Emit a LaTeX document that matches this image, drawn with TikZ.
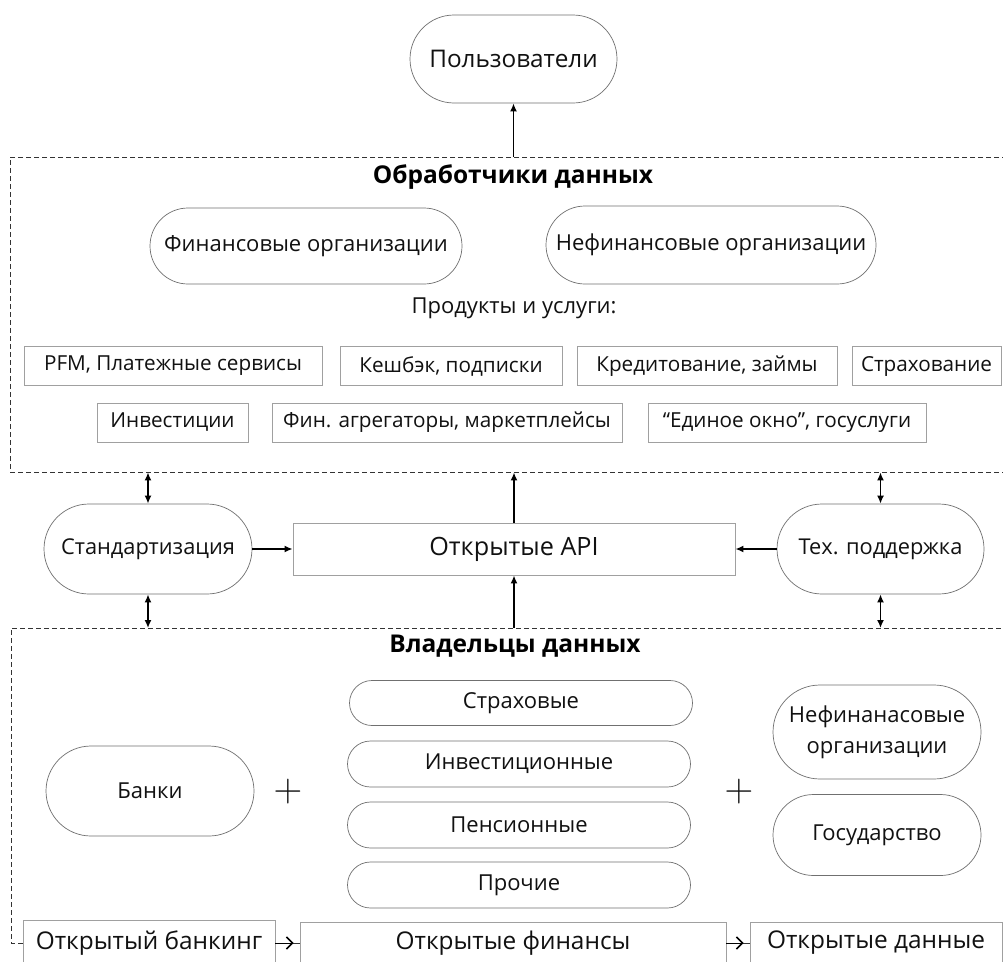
\documentclass[tikz,border=0pt]{standalone}
\usepackage{graphicx}
\usepackage{fontspec}
\setmainfont{Open Sans}
\usetikzlibrary{shapes.misc,arrows.meta}
\definecolor{txt}{HTML}{111111}
\definecolor{pillc}{HTML}{707070}
\definecolor{boxc}{HTML}{A0A0A0}
\definecolor{dashc}{HTML}{333333}
\newcommand{\fs}[1]{\fontsize{#1}{#1}\selectfont}
\tikzset{
  pill/.style={rounded rectangle, draw=pillc, line width=0.7pt, text=txt, inner sep=0pt, align=center},
  plainbox/.style={rectangle, draw=boxc, line width=0.8pt, text=txt, inner sep=0pt, align=center},
  grp/.style={draw=dashc, line width=0.8pt, dash pattern=on 5pt off 3pt},
  title/.style={text=black, font=\bfseries\fs{24.5}},
  lbl/.style={text=txt},
  arr/.style={line width=1.6pt, -{Latex[length=8pt,width=7pt]}},
  darr/.style={line width=1.6pt, {Latex[length=8pt,width=7pt]}-{Latex[length=8pt,width=7pt]}},
  thinline/.style={line width=0.9pt, draw=dashc},
  barr/.style={line width=0.9pt, draw=black, shorten >=6pt, -{Straight Barb[length=6pt,width=12pt,line width=1.6pt]}},
}
\begin{document}
\begin{tikzpicture}[x=1pt,y=-1pt]
\useasboundingbox (0,0) rectangle (1003,961);
\clip (0,0) rectangle (1003,961);
\fill[white] (0,0) rectangle (1003,961);

% top
\node[pill, minimum width=207pt, minimum height=88pt, font=\fs{24.3}] (users) at (513.5,59) {Пользователи};

% processors group
\node[grp, rectangle, minimum width=1005pt, minimum height=315pt, inner sep=0pt] (proc) at (512.5,314.5) {};
\node[title] (t1) at (513,177) {Обработчики данных};
\node[pill, minimum width=312pt, minimum height=76pt, font=\fs{22}] (fin) at (306,246) {Финансовые организации};
\node[pill, minimum width=330pt, minimum height=78pt, font=\fs{22}] (nefin) at (711,245) {Нефинансовые организации};
\node[lbl, font=\fs{22}] (prod) at (514,308) {Продукты и услуги:};

\node[plainbox, minimum width=298pt, minimum height=39pt, font=\fs{20.7}] (pfm) at (173,366) {PFM, Платежные сервисы};
\node[plainbox, minimum width=222pt, minimum height=39pt, font=\fs{20.7}] (cash) at (451,366) {Кешбэк, подписки};
\node[plainbox, minimum width=260pt, minimum height=39pt, font=\fs{20.7}] (cred) at (707,366) {Кредитование, займы};
\node[plainbox, minimum width=149pt, minimum height=39pt, font=\fs{20.7}] (insur) at (926.5,366) {Страхование};
\node[plainbox, minimum width=151pt, minimum height=39pt, font=\fs{20.7}] (inv) at (172.5,422.5) {Инвестиции};
\node[plainbox, minimum width=350pt, minimum height=39pt, font=\fs{20.7}] (agg) at (447,422.5) {Фин. агрегаторы, маркетплейсы};
\node[plainbox, minimum width=278pt, minimum height=39pt, font=\fs{20.7}] (okno) at (787,422.5) {“Единое окно”, госуслуги};

% middle
\node[pill, minimum width=208pt, minimum height=90pt, font=\fs{21.8}] (std) at (148,549) {Стандартизация};
\node[plainbox, minimum width=442pt, minimum height=52pt, font=\fs{25.2}] (api) at (514,549) {Открытые API};
\node[pill, minimum width=207pt, minimum height=90pt, font=\fs{21.8}] (tech) at (880.5,549) {Тех. поддержка};

% owners group
\coordinate (ownTL) at (11,628);
\coordinate (ownTR) at (1015,628);
\node[title] (t2) at (515,646) {Владельцы данных};
\node[pill, minimum width=208pt, minimum height=90pt, font=\fs{22}] (banks) at (150,791) {Банки};
\node[lbl, font=\fs{24}] (plus1) at (288,792) {\scalebox{1.6}{$+$}};
\node[pill, minimum width=343pt, minimum height=45pt, font=\fs{22}] (s1) at (521,703) {Страховые};
\node[pill, minimum width=343pt, minimum height=46pt, font=\fs{22}] (s2) at (519,764) {Инвестиционные};
\node[pill, minimum width=343pt, minimum height=46pt, font=\fs{22}] (s3) at (519,825) {Пенсионные};
\node[pill, minimum width=343pt, minimum height=46pt, font=\fs{22}] (s4) at (519,885) {Прочие};
\node[lbl, font=\fs{24}] (plus2) at (739,792) {\scalebox{1.6}{$+$}};
\node[pill, minimum width=208pt, minimum height=94pt, font=\fs{22}] (nefin2) at (877,732) {Нефинанасовые\\[9pt]организации};
\node[pill, minimum width=208pt, minimum height=81pt, font=\fs{22}] (gos) at (877,835) {Государство};

\node[plainbox, minimum width=252pt, minimum height=46pt, font=\fs{24.4}] (ob) at (149,943) {Открытый банкинг};
\node[plainbox, minimum width=426pt, minimum height=42pt, font=\fs{24.4}] (of) at (513,943) {Открытые финансы};
\node[plainbox, minimum width=252pt, minimum height=42pt, font=\fs{24.4}] (od) at (876,943) {Открытые данные};

\draw[grp] (ob.west) -| (ownTL) -- (ownTR);

% connectors
\draw[arr] (users.south |- proc.north) -- (users.south);
\draw[arr] (api.north) -- (api.north |- proc.south);
\draw[arr] (api.south |- ownTL) -- (api.south);
\draw[arr] (std.east) -- (api.west);
\draw[arr] (tech.west) -- (api.east);
\draw[darr] (std.north) -- (std.north |- proc.south);
\draw[darr] (std.south) -- (std.south |- ownTL);
\draw[darr] (tech.north) -- (tech.north |- proc.south);
\draw[darr] (tech.south) -- (tech.south |- ownTL);
\draw[thinline] (ob.east) -- (of.west);
\draw[barr] (ob.east) -- (of.west);
\draw[thinline] (of.east) -- (od.west);
\draw[barr] (of.east) -- (od.west);
\end{tikzpicture}
\end{document}
